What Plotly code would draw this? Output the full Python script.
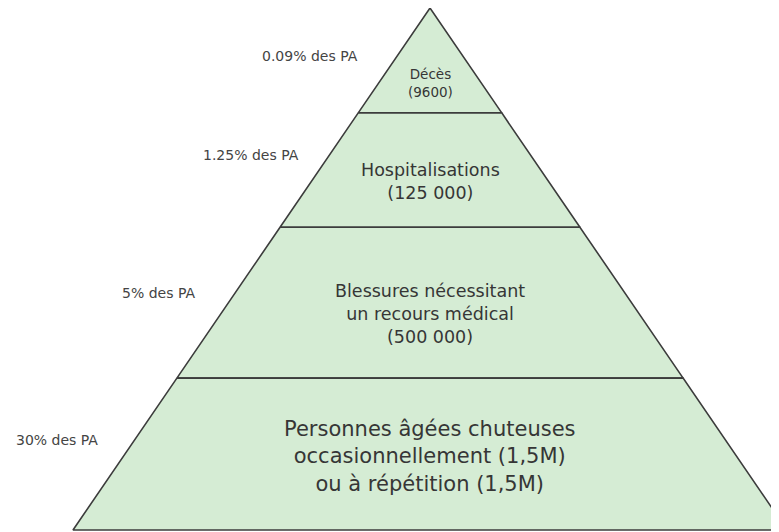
import plotly.graph_objects as go

# Levels from top to bottom of the pyramid
level_labels = [
    "Décès<br>(9600)",
    "Hospitalisations<br>(125 000)",
    "Blessures nécessitant<br>un recours médical<br>(500 000)",
    "Personnes âgées chuteuses<br>occasionnellement (1,5M)<br>ou à répétition (1,5M)",
]
share_labels = ["0.09% des PA", "1.25% des PA", "5% des PA", "30% des PA"]
# boundaries as fraction of pyramid height (0 = apex, 1 = base)
level_bounds = [0.0, 0.201, 0.420, 0.709, 1.0]

# Geometry in page pixels (the page body has an 8px margin,
# so the axis ranges are shifted to keep data units == page pixels)
OFF = 8
APEX_X, APEX_Y = 430, 8
BASE_Y = 530
HALF_BASE = 357
H = BASE_Y - APEX_Y

FILL = "#d5ecd4"
EDGE = "#3c3c3c"
TEXT = "#363636"
FONT = "DejaVu Sans, Liberation Sans, Arial"

label_sizes = [13.5, 17.5, 17.5, 21]
label_y = [83, 181, 314, 456]
share_pos = [(310, 56), (251, 155), (158, 293), (57, 440)]


def half_width(frac):
    return HALF_BASE * frac


fig = go.Figure()

for i in range(4):
    t, b = level_bounds[i], level_bounds[i + 1]
    yt, yb = APEX_Y + H * t, APEX_Y + H * b
    xs = [APEX_X - half_width(t), APEX_X + half_width(t),
          APEX_X + half_width(b), APEX_X - half_width(b),
          APEX_X - half_width(t)]
    ys = [yt, yt, yb, yb, yt]
    fig.add_trace(
        go.Scatter(
            x=xs, y=ys, mode="lines", fill="toself",
            fillcolor=FILL, line=dict(color=EDGE, width=1.6),
            hoverinfo="skip", showlegend=False,
        )
    )
    fig.add_annotation(
        x=APEX_X, y=label_y[i], text=level_labels[i], showarrow=False,
        font=dict(family=FONT, size=label_sizes[i], color=TEXT),
        align="center",
    )
    sx, sy = share_pos[i]
    fig.add_annotation(
        x=sx, y=sy, text=share_labels[i], showarrow=False,
        font=dict(family=FONT, size=14, color="#444444"),
    )

fig.update_layout(
    width=779, height=532,
    margin=dict(l=0, r=0, t=0, b=0),
    plot_bgcolor="white", paper_bgcolor="white",
    xaxis=dict(range=[OFF, 779 + OFF], visible=False, fixedrange=True),
    yaxis=dict(range=[532 + OFF, OFF], visible=False, fixedrange=True),
)

fig.write_html("out.html")
